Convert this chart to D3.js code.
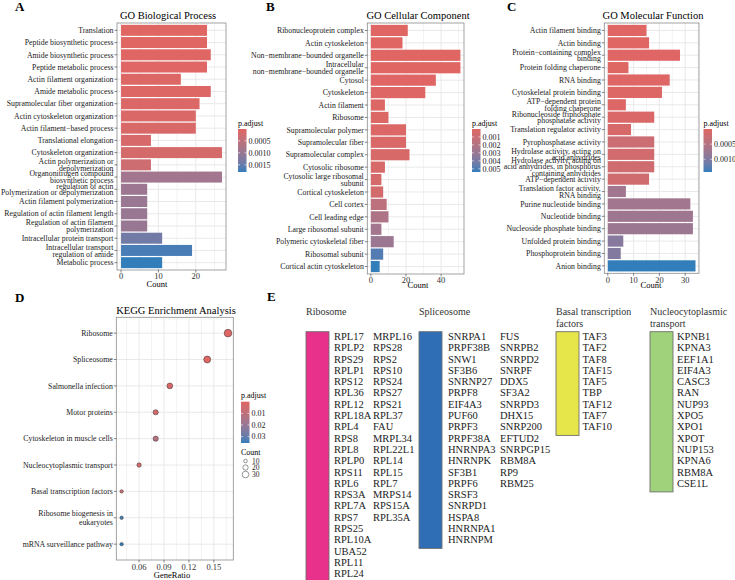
<!DOCTYPE html>
<html>
<head>
<meta charset="utf-8">
<script src="https://cdn.jsdelivr.net/npm/d3@7/dist/d3.min.js"></script>
<style>
  body { margin: 0; background: #fff; }
  svg { font-family: "Liberation Serif", "Times New Roman", serif; }
</style>
</head>
<body>
<svg id="fig" width="735" height="580"></svg>
<script>
// ---- GO Biological Process (A)
const bpTerms = [
  "Translation", "Peptide biosynthetic process", "Amide biosynthetic process",
  "Peptide metabolic process", "Actin filament organization", "Amide metabolic process",
  "Supramolecular fiber organization", "Actin cytoskeleton organization",
  "Actin filament\u2212based process", "Translational elongation", "Cytoskeleton organization",
  "Actin polymerization or\ndepolymerization", "Organonitrogen compound\nbiosynthetic process",
  "regulation of actin\nPolymerization or depolymerization", "Actin filament polymerization",
  "Regulation of actin filament length", "Regulation of actin filament\npolymerization",
  "Intracellular protein transport", "Intracellular transport\nregulation of amide",
  "Metabolic process"
];
const bpCounts = [23, 23, 24, 23, 16, 24, 21, 20, 20, 8, 27, 8, 27, 7, 7, 7, 7, 11, 19, 11];
const bpPadj = [0.00001, 0.00002, 0.00002, 0.00003, 0.00005, 0.00006, 0.00008, 0.0001, 0.00012,
  0.00015, 0.00018, 0.0003, 0.0009, 0.00095, 0.00098, 0.001, 0.001, 0.0014, 0.0017, 0.0018];
const bpTicks = [0, 10, 20];
const bpLegendTicks = [0.0005, 0.001, 0.0015];

// ---- GO Cellular Component (B)
const ccTerms = [
  "Ribonucleoprotein complex", "Actin cytoskeleton", "Non\u2212membrane\u2212bounded organelle",
  "Intracellular\nnon\u2212membrane\u2212bounded organelle", "Cytosol", "Cytoskeleton",
  "Actin filament", "Ribosome", "Supramolecular polymer", "Supramolecular fiber",
  "Supramolecular complex", "Cytosolic ribosome", "Cytosolic large ribosomal\nsubunit",
  "Cortical cytoskeleton", "Cell cortex", "Cell leading edge", "Large ribosomal subunit",
  "Polymeric cytoskeletal fiber", "Ribosomal subunit", "Cortical actin cytoskeleton"
];
const ccCounts = [21, 18, 51, 51, 37, 31, 8, 10, 20, 20, 22, 8, 6, 7, 9, 10, 6, 13, 7, 5];
const ccPadj = [0.000002, 0.00001, 0.00002, 0.00003, 0.00005, 0.0001, 0.00015, 0.0002, 0.00025,
  0.0003, 0.00035, 0.0004, 0.0005, 0.0006, 0.0016, 0.0022, 0.0026, 0.0029, 0.0049, 0.0054];
const ccTicks = [0, 20, 40];
const ccLegendTicks = [0.001, 0.002, 0.003, 0.004, 0.005];

// ---- GO Molecular Function (C)
const mfTerms = [
  "Actin filament binding", "Actin binding", "Protein\u2212containing complex\nbinding",
  "Protein folding chaperone", "RNA binding", "Cytoskeletal protein binding",
  "ATP\u2212dependent protein\nfolding chaperone", "Ribonucleoside triphosphate\nphosphatase activity",
  "Translation regulator activity", "Pyrophosphatase activity",
  "Hydrolase activity, acting on\nacid anhydrides",
  "Hydrolase activity, acting on\nacid anhydrides, in phosphorus\ncontaining anhydrides",
  "ATP\u2212dependent activity", "Translation factor activity,\nRNA binding",
  "Purine nucleotide binding", "Nucleotide binding", "Nucleoside phosphate binding",
  "Unfolded protein binding", "Phosphoprotein binding", "Anion binding"
];
const mfCounts = [15, 16, 28, 8, 24, 21, 7, 18, 9, 18, 18, 18, 16, 7, 32, 33, 33, 6, 5, 34];
const mfPadj = [0.000001, 0.000005, 0.00001, 0.00002, 0.00003, 0.00004, 0.00005, 0.00008, 0.0001,
  0.00025, 0.00018, 0.0002, 0.00022, 0.0007, 0.0007, 0.00072, 0.00075, 0.00095, 0.00098, 0.00142];
const mfTicks = [0, 10, 20, 30];
const mfLegendTicks = [0.0005, 0.001];

// ---- KEGG (D)
const keggTerms = [
  "Ribosome", "Spliceosome", "Salmonella infection", "Motor proteins",
  "Cytoskeleton in muscle cells", "Nucleocytoplasmic transport", "Basal transcription factors",
  "Ribosome biogenesis in\neukaryotes", "mRNA surveillance pathway"
];
const keggRatio = [0.167, 0.142, 0.097, 0.080, 0.080, 0.060, 0.039, 0.039, 0.039];
const keggCount = [39, 33, 23, 19, 19, 14, 9, 9, 9];
const keggPadj = [0.0000001, 0.0002, 0.002, 0.004, 0.012, 0.003, 0.005, 0.034, 0.0355];
const keggTicks = [0.06, 0.09, 0.12, 0.15];
const keggLegendTicks = [0.01, 0.02, 0.03];
const keggSizeTicks = [10, 20, 30];

// ---- Gene groups (E)
const groupNames = ["Ribosome", "Spliceosome", "Basal transcription\nfactors", "Nucleocytoplasmic\ntransport"];
const groupColors = ["#e8318b", "#2f6db5", "#e6e64b", "#9fd27a"];
const riboGenes = [
  ["RPL17", "RPLP2", "RPS29", "RPLP1", "RPS12", "RPL36", "RPL12", "RPL18A", "RPL4", "RPS8", "RPL8",
   "RPLP0", "RPS11", "RPL6", "RPS3A", "RPL7A", "RPS7", "RPS25", "RPL10A", "UBA52", "RPL11", "RPL24"],
  ["MRPL16", "RPS28", "RPS2", "RPS10", "RPS24", "RPS27", "RPS21", "RPL37", "FAU", "MRPL34",
   "RPL22L1", "RPL14", "RPL15", "RPL7", "MRPS14", "RPS15A", "RPL35A"]
];
const spliceGenes = [
  ["SNRPA1", "PRPF38B", "SNW1", "SF3B6", "SNRNP27", "PRPF8", "EIF4A3", "PUF60", "PRPF3", "PRPF38A",
   "HNRNPA3", "HNRNPK", "SF3B1", "PRPF6", "SRSF3", "SNRPD1", "HSPA8", "HNRNPA1", "HNRNPM"],
  ["FUS", "SNRPB2", "SNRPD2", "SNRPF", "DDX5", "SF3A2", "SNRPD3", "DHX15", "SNRP200", "EFTUD2",
   "SNRPGP15", "RBM8A", "RP9", "RBM25"]
];
const basalGenes = [["TAF3", "TAF2", "TAF8", "TAF15", "TAF5", "TBP", "TAF12", "TAF7", "TAF10"]];
const nucleoGenes = [["KPNB1", "KPNA3", "EEF1A1", "EIF4A3", "CASC3", "RAN", "NUP93", "XPO5", "XPO1",
  "XPOT", "NUP153", "KPNA6", "RBM8A", "CSE1L"]];

const lowColor = "#e06663";
const highColor = "#327eba";
const gridColor = "#e6e6e6";
const borderColor = "#8c8c8c";

const svg = d3.select("#fig");
const defs = svg.append("defs");

function addLabel(g, text, x, yc, size, lineH, anchor) {
  const lines = text.split("\n");
  const t = g.append("text")
    .attr("text-anchor", anchor)
    .attr("font-size", size)
    .attr("fill", "#1a1a1a");
  lines.forEach((ln, i) => {
    t.append("tspan")
      .attr("x", x)
      .attr("y", yc + (i - (lines.length - 1) / 2) * lineH)
      .attr("dy", "0.35em")
      .text(ln);
  });
  return t;
}

function panelLetter(letter, x, y) {
  svg.append("text").attr("x", x).attr("y", y)
    .attr("font-size", 13).attr("font-weight", "bold").text(letter);
}

// vertical colour bar legend (low values on top, as in enrichplot)
function colorLegend(id, color, ticks, fmt, lx, top, bottom) {
  const g = svg.append("g");
  const dom = color.domain();
  const grad = defs.append("linearGradient").attr("id", id)
    .attr("x1", 0).attr("y1", 0).attr("x2", 0).attr("y2", 1);
  d3.range(11).forEach((i) => {
    grad.append("stop").attr("offset", i / 10)
      .attr("stop-color", color(dom[0] + (i / 10) * (dom[1] - dom[0])));
  });
  const w = 8.5;
  g.append("text").attr("x", lx).attr("y", top - 3.5).attr("font-size", 8).text("p.adjust");
  g.append("rect").attr("x", lx).attr("y", top).attr("width", w).attr("height", bottom - top)
    .attr("fill", `url(#${id})`);
  const ly = d3.scaleLinear().domain(dom).range([top, bottom]);
  ticks.forEach((t) => {
    const y = ly(t);
    g.append("line").attr("x1", lx).attr("x2", lx + 2).attr("y1", y).attr("y2", y)
      .attr("stroke", "#fff").attr("stroke-width", 0.6);
    g.append("line").attr("x1", lx + w - 2).attr("x2", lx + w).attr("y1", y).attr("y2", y)
      .attr("stroke", "#fff").attr("stroke-width", 0.6);
    g.append("text").attr("x", lx + w + 2).attr("y", y).attr("dy", "0.35em")
      .attr("font-size", 8).attr("fill", "#222").text(fmt(t));
  });
  return g;
}

function minorTicks(ticks, dom) {
  const step = ticks[1] - ticks[0];
  const out = [];
  for (let v = ticks[0] - step / 2; v <= dom[1]; v += step) {
    if (v >= dom[0]) out.push(v);
  }
  return out;
}

function drawBarPanel(cfg) {
  const { terms, counts, padj, ticks, box } = cfg;
  const g = svg.append("g");
  const maxC = d3.max(counts);
  const x = d3.scaleLinear().domain([-0.04 * maxC, maxC * 1.04]).range([box.left, box.right]);
  const y = d3.scalePoint().domain(d3.range(terms.length)).range([box.top, box.bottom]).padding(0.6);
  const color = d3.scaleLinear().domain(d3.extent(padj)).range([lowColor, highColor])
    .interpolate(d3.interpolateLab);

  // grid
  minorTicks(ticks, x.domain()).forEach((v) => {
    g.append("line").attr("x1", x(v)).attr("x2", x(v)).attr("y1", box.top).attr("y2", box.bottom)
      .attr("stroke", gridColor).attr("stroke-width", 0.5);
  });
  ticks.forEach((v) => {
    g.append("line").attr("x1", x(v)).attr("x2", x(v)).attr("y1", box.top).attr("y2", box.bottom)
      .attr("stroke", gridColor).attr("stroke-width", 0.9);
  });
  terms.forEach((t, i) => {
    g.append("line").attr("x1", box.left).attr("x2", box.right).attr("y1", y(i)).attr("y2", y(i))
      .attr("stroke", gridColor).attr("stroke-width", 0.9);
  });

  // bars
  const bh = y.step() * 0.9;
  g.selectAll("rect.bar").data(counts).enter().append("rect")
    .attr("class", "bar")
    .attr("x", x(0))
    .attr("y", (d, i) => y(i) - bh / 2)
    .attr("width", (d) => x(d) - x(0))
    .attr("height", bh)
    .attr("fill", (d, i) => color(padj[i]));

  g.append("rect").attr("x", box.left).attr("y", box.top)
    .attr("width", box.right - box.left).attr("height", box.bottom - box.top)
    .attr("fill", "none").attr("stroke", borderColor).attr("stroke-width", 0.8);

  // axes
  terms.forEach((t, i) => {
    g.append("line").attr("x1", box.left - 2.5).attr("x2", box.left).attr("y1", y(i)).attr("y2", y(i))
      .attr("stroke", "#333").attr("stroke-width", 0.6);
    addLabel(g, t, box.left - 3.5, y(i), 7.8, 6.8, "end");
  });
  ticks.forEach((v) => {
    g.append("line").attr("x1", x(v)).attr("x2", x(v)).attr("y1", box.bottom).attr("y2", box.bottom + 2.5)
      .attr("stroke", "#333").attr("stroke-width", 0.6);
    g.append("text").attr("x", x(v)).attr("y", box.bottom + 6.5).attr("dy", "0.35em")
      .attr("text-anchor", "middle").attr("font-size", 8.5).attr("fill", "#333").text(v);
  });
  g.append("text").attr("x", cfg.countX).attr("y", cfg.countY).attr("dy", "0.35em")
    .attr("text-anchor", "middle").attr("font-size", 8.5).text("Count");
  g.append("text").attr("x", cfg.titleX).attr("y", 19).attr("text-anchor", "middle")
    .attr("font-size", 10.5).text(cfg.title);

  colorLegend(cfg.id, color, cfg.legendTicks, cfg.fmt, cfg.legendX, 129, 172);
}

drawBarPanel({
  id: "gA", terms: bpTerms, counts: bpCounts, padj: bpPadj, ticks: bpTicks,
  box: { left: 117, right: 226, top: 23, bottom: 270 },
  title: "GO Biological Process", titleX: 168, countX: 157, countY: 284,
  legendTicks: bpLegendTicks, fmt: d3.format(".4f"), legendX: 238
});
drawBarPanel({
  id: "gB", terms: ccTerms, counts: ccCounts, padj: ccPadj, ticks: ccTicks,
  box: { left: 367.3, right: 464, top: 23, bottom: 274 },
  title: "GO Cellular Component", titleX: 418, countX: 418, countY: 285,
  legendTicks: ccLegendTicks, fmt: d3.format(".3f"), legendX: 472
});
drawBarPanel({
  id: "gC", terms: mfTerms, counts: mfCounts, padj: mfPadj, ticks: mfTicks,
  box: { left: 604.3, right: 699, top: 23, bottom: 273.3 },
  title: "GO Molecular Function", titleX: 653, countX: 651, countY: 285,
  legendTicks: mfLegendTicks, fmt: d3.format(".4f"), legendX: 703.5
});

// ---- KEGG dot plot
(function () {
  const box = { left: 116.3, right: 233.3, top: 317.3, bottom: 560 };
  const g = svg.append("g");
  const ext = d3.extent(keggRatio);
  const pad = (ext[1] - ext[0]) * 0.05;
  const x = d3.scaleLinear().domain([ext[0] - pad, ext[1] + pad]).range([box.left, box.right]);
  const y = d3.scalePoint().domain(d3.range(keggTerms.length)).range([box.top, box.bottom]).padding(0.6);
  const color = d3.scaleLinear().domain([0, d3.max(keggPadj)]).range([lowColor, highColor])
    .interpolate(d3.interpolateLab);
  const size = d3.scaleRadial().domain(d3.extent(keggCount)).range([1.7, 3.8]);

  minorTicks(keggTicks, x.domain()).forEach((v) => {
    g.append("line").attr("x1", x(v)).attr("x2", x(v)).attr("y1", box.top).attr("y2", box.bottom)
      .attr("stroke", gridColor).attr("stroke-width", 0.5);
  });
  keggTicks.forEach((v) => {
    g.append("line").attr("x1", x(v)).attr("x2", x(v)).attr("y1", box.top).attr("y2", box.bottom)
      .attr("stroke", gridColor).attr("stroke-width", 0.9);
  });
  keggTerms.forEach((t, i) => {
    g.append("line").attr("x1", box.left).attr("x2", box.right).attr("y1", y(i)).attr("y2", y(i))
      .attr("stroke", gridColor).attr("stroke-width", 0.9);
  });

  g.selectAll("circle.dot").data(keggRatio).enter().append("circle")
    .attr("class", "dot")
    .attr("cx", (d) => x(d))
    .attr("cy", (d, i) => y(i))
    .attr("r", (d, i) => size(keggCount[i]))
    .attr("fill", (d, i) => color(keggPadj[i]))
    .attr("stroke", "#333").attr("stroke-width", 0.5);

  g.append("rect").attr("x", box.left).attr("y", box.top)
    .attr("width", box.right - box.left).attr("height", box.bottom - box.top)
    .attr("fill", "none").attr("stroke", borderColor).attr("stroke-width", 0.8);

  keggTerms.forEach((t, i) => {
    g.append("line").attr("x1", box.left - 2.5).attr("x2", box.left).attr("y1", y(i)).attr("y2", y(i))
      .attr("stroke", "#333").attr("stroke-width", 0.6);
    addLabel(g, t, box.left - 3.5, y(i), 7.8, 9.3, "end");
  });
  keggTicks.forEach((v) => {
    g.append("line").attr("x1", x(v)).attr("x2", x(v)).attr("y1", box.bottom).attr("y2", box.bottom + 2.5)
      .attr("stroke", "#333").attr("stroke-width", 0.6);
    g.append("text").attr("x", x(v)).attr("y", box.bottom + 7).attr("dy", "0.35em")
      .attr("text-anchor", "middle").attr("font-size", 8.5).attr("fill", "#333").text(d3.format(".2f")(v));
  });
  g.append("text").attr("x", 172).attr("y", 575.5).attr("dy", "0.35em")
    .attr("text-anchor", "middle").attr("font-size", 8.5).text("GeneRatio");
  g.append("text").attr("x", 176).attr("y", 314).attr("text-anchor", "middle")
    .attr("font-size", 10.5).text("KEGG Enrichment Analysis");

  colorLegend("gD", color, keggLegendTicks, d3.format(".2f"), 241, 401.7, 443);

  // size legend
  g.append("text").attr("x", 241).attr("y", 455).attr("font-size", 8).text("Count");
  const keyY = [461, 467.5, 474.5];
  keggSizeTicks.forEach((c, i) => {
    g.append("circle").attr("cx", 245.5).attr("cy", keyY[i]).attr("r", size(c))
      .attr("fill", "none").attr("stroke", "#333").attr("stroke-width", 0.5);
    g.append("text").attr("x", 252).attr("y", keyY[i]).attr("dy", "0.35em")
      .attr("font-size", 7.5).attr("fill", "#222").text(c);
  });
})();

// ---- Gene lists (E)
(function () {
  const groups = [riboGenes, spliceGenes, basalGenes, nucleoGenes];
  const layout = [
    { x: 306, cols: [334, 373] },
    { x: 419, cols: [448, 500] },
    { x: 556, cols: [582.5] },
    { x: 650, cols: [677] }
  ];
  const boxTop = 331.7, rowStep = 11.3, boxW = 23;
  const g = svg.append("g");
  groups.forEach((genes, gi) => {
    const L = layout[gi];
    groupNames[gi].split("\n").forEach((ln, li) => {
      g.append("text").attr("x", L.x).attr("y", 315 + li * 11.5)
        .attr("font-size", 10).attr("fill", "#333").text(ln);
    });
    const nRows = d3.max(genes, (c) => c.length);
    g.append("rect").attr("x", L.x).attr("y", boxTop).attr("width", boxW)
      .attr("height", nRows * rowStep + 2)
      .attr("fill", groupColors[gi]).attr("stroke", "#6f6f6f").attr("stroke-width", 0.9);
    genes.forEach((col, ci) => {
      col.forEach((gene, ri) => {
        g.append("text").attr("x", L.cols[ci]).attr("y", boxTop + 4.6 + ri * rowStep)
          .attr("dy", "0.35em").attr("font-size", 10.5).attr("fill", "#222").text(gene);
      });
    });
  });
})();

panelLetter("A", 15, 11);
panelLetter("B", 266, 11);
panelLetter("C", 507, 11);
panelLetter("D", 15, 302);
panelLetter("E", 267, 301);
</script>
</body>
</html>
